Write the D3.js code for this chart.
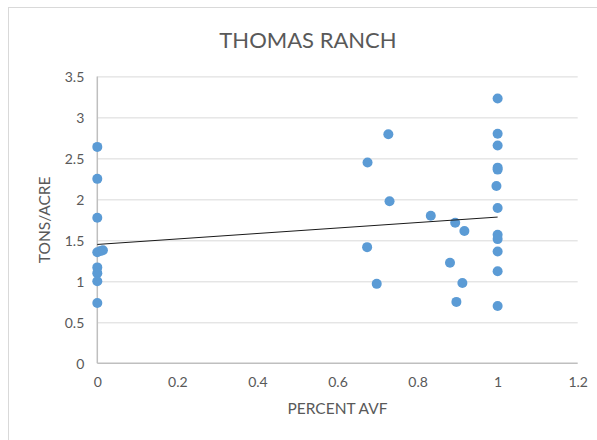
<!DOCTYPE html>
<html>
<head>
<meta charset="utf-8">
<script src="https://cdn.jsdelivr.net/npm/d3@7"></script>
<style>
  html, body { margin: 0; padding: 0; background: #fff; }
  svg { display: block; }
  text { font-family: Lato, "Open Sans", sans-serif; fill: #595959; }
</style>
</head>
<body>
<svg id="chart" width="597" height="440"></svg>
<script>
// ---- data ----
const percentAvf = [0, 0, 0, 0, 0, 0, 0, 0, 0.008, 0.014,
  0.675, 0.674, 0.698, 0.727, 0.730,
  0.833, 0.881, 0.894, 0.897, 0.912, 0.917,
  1, 1, 1, 1, 1, 0.997, 1, 1, 1, 1, 1, 1];
const tonsPerAcre = [2.64, 2.25, 1.775, 1.355, 1.17, 1.10, 1.0, 0.735, 1.37, 1.38,
  2.449, 1.417, 0.969, 2.795, 1.976,
  1.80, 1.226, 1.715, 0.749, 0.98, 1.613,
  3.23, 2.80, 2.656, 2.387, 2.363, 2.163, 1.894, 1.568, 1.515, 1.364, 1.124, 0.70];
const trendX = [0, 1];
const trendY = [1.45, 1.784];
const xTicks = [0, 0.2, 0.4, 0.6, 0.8, 1, 1.2];
const yTicks = [0, 0.5, 1, 1.5, 2, 2.5, 3, 3.5];
const chartTitle = "THOMAS RANCH";
const xTitle = "PERCENT AVF";
const yTitle = "TONS/ACRE";

// ---- layout ----
const svg = d3.select("#chart");
const plotL = 97.3, plotR = 577.7, plotT = 76.4, plotB = 363.3;

svg.append("rect").attr("x", 8.5).attr("y", 7.5).attr("width", 620).attr("height", 460)
  .attr("fill", "#fff").attr("stroke", "#d9d9d9").attr("stroke-width", 1);

const x = d3.scaleLinear().domain([0, 1.2]).range([plotL, plotR]);
const y = d3.scaleLinear().domain([0, 3.5]).range([plotB, plotT]);

// gridlines
const grid = svg.append("g")
  .attr("transform", `translate(${plotL},0)`)
  .call(d3.axisLeft(y).tickValues(yTicks.filter(v => v > 0)).tickSize(-(plotR - plotL)).tickFormat(""));
grid.select(".domain").remove();
grid.selectAll("line").attr("stroke", "#d9d9d9").attr("stroke-width", 1);

// y axis labels
const yAxis = svg.append("g")
  .attr("transform", `translate(${plotL},0)`)
  .call(d3.axisLeft(y).tickValues(yTicks).tickSize(0).tickPadding(13).tickFormat(d => String(d)));
yAxis.select(".domain").remove();
yAxis.selectAll("text").style("font-size", "14px").attr("fill", "#595959").attr("dy", "0.35em");

// x axis labels
const xAxis = svg.append("g")
  .attr("transform", `translate(0,${plotB})`)
  .call(d3.axisBottom(x).tickValues(xTicks).tickSize(0).tickPadding(14).tickFormat(d => String(d)));
xAxis.select(".domain").remove();
xAxis.selectAll("text").style("font-size", "14px").attr("fill", "#595959");

// axis lines
svg.append("line").attr("x1", x(0)).attr("x2", x(0)).attr("y1", y(3.5)).attr("y2", y(0))
  .attr("stroke", "#bfbfbf").attr("stroke-width", 1.5);
svg.append("line").attr("x1", x(0)).attr("x2", x(1.2)).attr("y1", y(0)).attr("y2", y(0))
  .attr("stroke", "#bfbfbf").attr("stroke-width", 1.5);

// points
const pts = percentAvf.map((v, i) => ({ x: v, y: tonsPerAcre[i] }));
svg.append("g").selectAll("circle").data(pts).join("circle")
  .attr("cx", d => x(d.x)).attr("cy", d => y(d.y)).attr("r", 5)
  .attr("fill", "#5b9bd5");

// trendline
const trend = trendX.map((v, i) => ({ x: v, y: trendY[i] }));
svg.append("path").datum(trend)
  .attr("d", d3.line().x(d => x(d.x)).y(d => y(d.y)))
  .attr("fill", "none").attr("stroke", "#1a1a1a").attr("stroke-width", 1);

// titles
svg.append("text").attr("x", 308).attr("y", 48).attr("text-anchor", "middle")
  .style("font-size", "22px").text(chartTitle);
svg.append("text").attr("x", (plotL + plotR) / 2).attr("y", 414).attr("text-anchor", "middle")
  .style("font-size", "15.5px").text(xTitle);
svg.append("text").attr("transform", `translate(50,${(plotT + plotB) / 2}) rotate(-90)`)
  .attr("text-anchor", "middle").style("font-size", "15.5px").text(yTitle);
</script>
</body>
</html>
